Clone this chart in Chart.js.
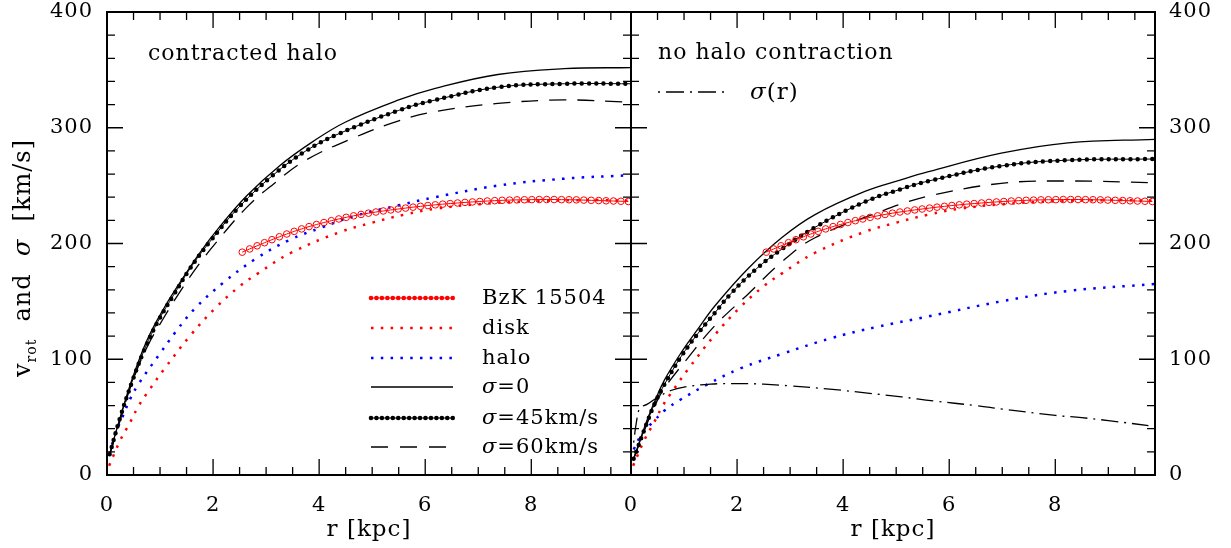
<!DOCTYPE html>
<html>
<head>
<meta charset="utf-8">
<script src="https://cdn.jsdelivr.net/npm/chart.js@4.4.0/dist/chart.umd.min.js"></script>
<style>
html, body { margin: 0; padding: 0; background: #fff; }
#wrap { position: relative; width: 1231px; height: 548px; }
#wrap canvas { position: absolute; left: 0; top: 0; }
</style>
</head>
<body>
<div id="wrap">
  <canvas id="left" width="1231" height="548"></canvas>
  <canvas id="right" width="1231" height="548"></canvas>
</div>
<script>
// ---- data (r in kpc, v in km/s) ----
// BzK 15504 rotation curve (same in both panels)
const rBzk = [2.55,2.69,2.83,2.97,3.11,3.25,3.39,3.53,3.67,3.81,3.95,4.09,4.23,4.37,4.51,4.65,4.79,4.93,5.07,5.21,5.35,5.49,5.63,5.77,5.91,6.05,6.19,6.33,6.47,6.61,6.75,6.89,7.03,7.17,7.31,7.45,7.59,7.73,7.87,8.01,8.15,8.29,8.43,8.57,8.71,8.85,8.99,9.13,9.27,9.41,9.55,9.69,9.83];
const vBzk = [192.5,195.3,198,200.7,203.3,205.8,208.2,210.5,212.6,214.6,216.4,218.1,219.7,221.2,222.6,223.9,225.1,226.2,227.2,228.1,229,229.8,230.6,231.4,232.1,232.8,233.4,234,234.5,235,235.5,235.9,236.3,236.7,237,237.3,237.5,237.7,237.8,237.9,238,238,238,237.9,237.8,237.7,237.5,237.3,237.1,236.9,236.7,236.5,236.3];

// disk (same in both panels)
const rDisk = [0.04,0.25,0.43,0.6,0.79,1.07,1.58,2.06,2.5,2.84,3.47,4.4,5.0,5.61,6.19,7.0,8.0,9.0,9.88];
const vDisk = [8,30,45,60,73,91,121,145,163,174,192,210,218,225,230,234,236.5,237.5,237];

// left panel: contracted halo
const rHaloC = [0.05,0.15,0.3,0.44,0.6,1.0,1.3,1.66,2.19,2.81,3.44,4.06,4.69,5.5,6.19,7.37,8.62,9.88];
const vHaloC = [18,35,51,66,79,105,124,144,166,187,203,214,224,233,240,250,256,259];
const rSig0C = [0.05,0.2,0.46,0.75,1.06,1.4,1.75,2.1,2.63,3.25,3.88,4.5,5.5,6.19,7.37,8.62,9.88];
const vSig0C = [18,42,81,116,143,168,192,213,241,267,288,305,324,334,346,351,352];
const rSig45C = [0.05,0.25,0.5,0.75,1.0,1.25,1.56,1.93,2.5,3.13,3.75,4.38,5.5,6.19,7.37,8.62,9.88];
const vSig45C = [18,50,84,113,136,155,178,201,232,259,280,295,315,324,335,338,338];
const rSig60C = [0.05,0.2,0.46,0.75,1.06,1.4,1.75,2.06,2.63,3.13,3.75,4.69,5.5,6.19,7.37,8.62,9.88];
const vSig60C = [17,40,78,110,135,160,183,201,231,251,272,292,306,314,321,324,322];

// right panel: no halo contraction
const rHaloN = [0.05,0.2,0.42,0.64,0.93,1.43,2.06,2.87,3.76,4.64,5.61,6.98,8.24,9.88];
const vHaloN = [22,35,46,56,65,78,92,105,118,128,137,150,159,165];
const rSig0N = [0.05,0.3,0.45,0.63,0.95,1.26,1.58,2.2,2.84,3.47,4.41,5.09,5.61,6.98,8.24,9.88];
const vSig0N = [14,47,64,82,106,126,146,178,205,225,245,255,262,278,287,290];
const rSig45N = [0.05,0.3,0.45,0.64,0.94,1.24,1.58,1.89,2.36,2.84,3.47,4.41,5.09,5.61,6.98,8.24,9.88];
const vSig45N = [14,45,62,79,102,121,140,157,178,195,214,236,247,254,267,272,273];
const rSig60N = [0.05,0.3,0.45,0.63,1.07,1.58,2.2,2.84,3.47,4.73,5.09,5.61,6.98,8.24,9.88];
const vSig60N = [14,44,60,75,101,129,156,184,205,228,234,241,252,254,252.5];
const rSigma = [0.05,0.1,0.17,0.3,0.5,0.75,1.0,1.5,2.0,2.5,3.0,3.8,4.5,5.1,5.7,6.5,7.0,8.0,8.5,9.0,9.88];
const vSigma = [28,45,58,61,67,73,76,78.5,79,78.5,77,74,70.5,67.5,64,60,57,51.5,49.5,47,42];

const xTicks = [0, 2, 4, 6, 8];
const yTicks = [0, 100, 200, 300, 400];

const FONT = '"DejaVu Serif", serif';
const RMAX = 9.88;

function pts(r, v) {
  return r.map((x, i) => ({ x: x, y: v[i] }));
}

function curve(r, v, color, width, dash, cap) {
  return {
    data: pts(r, v),
    borderColor: color,
    borderWidth: width,
    borderDash: dash || [],
    borderCapStyle: cap || 'butt',
    pointRadius: 0,
    fill: false,
    tension: 0.4
  };
}

function bzkSet() {
  return {
    data: pts(rBzk, vBzk),
    borderColor: '#ff0000',
    borderWidth: 1,
    pointRadius: 3.3,
    pointStyle: 'circle',
    pointBorderColor: '#ff0000',
    pointBackgroundColor: 'rgba(0,0,0,0)',
    pointBorderWidth: 1,
    fill: false,
    tension: 0.4
  };
}

const DOTS = [2.5, 7.3];

// wider glyph spacing, closer to the plotting font of the original
const spacing = {
  id: 'spacing',
  beforeDraw(chart) { chart.ctx.letterSpacing = '1px'; }
};

// frame + inward ticks
const frame = {
  id: 'frame',
  afterDatasetsDraw(chart) {
    const ctx = chart.ctx, a = chart.chartArea;
    const x = chart.scales.x, y = chart.scales.y;
    ctx.save();
    ctx.strokeStyle = '#000';
    ctx.lineWidth = 1.3;
    ctx.beginPath();
    for (let i = 0; i * 0.5 <= x.max; i++) {
      const px = x.getPixelForValue(i * 0.5);
      const len = i % 4 === 0 ? 16 : 8;
      ctx.moveTo(px, a.bottom); ctx.lineTo(px, a.bottom - len);
      ctx.moveTo(px, a.top); ctx.lineTo(px, a.top + len);
    }
    for (let v = 0; v <= 400; v += 20) {
      const py = y.getPixelForValue(v);
      const len = v % 100 === 0 ? 16 : 8;
      ctx.moveTo(a.left, py); ctx.lineTo(a.left + len, py);
      ctx.moveTo(a.right, py); ctx.lineTo(a.right - len, py);
    }
    ctx.stroke();
    ctx.lineWidth = 2;
    ctx.strokeRect(a.left, a.top, a.right - a.left, a.bottom - a.top);
    ctx.restore();
  }
};

function rich(ctx, parts, x, y, size) {
  for (const p of parts) {
    ctx.font = (p.i ? 'italic ' : '') + (p.s || size) + 'px ' + FONT;
    ctx.fillText(p.t, x, y + (p.dy || 0));
    x += ctx.measureText(p.t).width;
  }
  return x;
}

function richWidth(ctx, parts, size) {
  let w = 0;
  for (const p of parts) {
    ctx.font = (p.i ? 'italic ' : '') + (p.s || size) + 'px ' + FONT;
    w += ctx.measureText(p.t).width;
  }
  return w;
}

function sample(ctx, kind, x0, x1, y) {
  ctx.save();
  ctx.beginPath();
  ctx.moveTo(x0, y);
  ctx.lineTo(x1, y);
  if (kind === 'bzk' || kind === 'dots') {
    const c = kind === 'bzk' ? '#ff0000' : '#000';
    ctx.strokeStyle = c; ctx.lineWidth = 1; ctx.stroke();
    ctx.fillStyle = c;
    for (let px = x0; px <= x1 + 0.1; px += 5.45) {
      ctx.beginPath(); ctx.arc(px, y, 2.3, 0, Math.PI * 2); ctx.fill();
    }
  } else if (kind === 'disk' || kind === 'halo') {
    ctx.strokeStyle = kind === 'disk' ? '#ff0000' : '#0000ff';
    ctx.lineWidth = 2.5; ctx.setLineDash(DOTS); ctx.stroke();
  } else if (kind === 'solid') {
    ctx.strokeStyle = '#000'; ctx.lineWidth = 1.3; ctx.stroke();
  } else if (kind === 'dash') {
    ctx.strokeStyle = '#000'; ctx.lineWidth = 1.3; ctx.setLineDash([17, 12]); ctx.stroke();
  } else if (kind === 'dashdot') {
    ctx.strokeStyle = '#000'; ctx.lineWidth = 1.3; ctx.setLineDash([2, 6, 18, 6]); ctx.stroke();
  }
  ctx.restore();
}

const leftText = {
  id: 'leftText',
  afterDraw(chart) {
    const ctx = chart.ctx;
    ctx.save();
    ctx.fillStyle = '#000';
    ctx.textBaseline = 'alphabetic';
    ctx.font = '22px ' + FONT;
    ctx.fillText('contracted halo', 148, 60);

    const rows = [
      ['bzk', [{ t: 'BzK 15504' }], 298],
      ['disk', [{ t: 'disk' }], 328],
      ['halo', [{ t: 'halo' }], 358],
      ['solid', [{ t: 'σ', i: true }, { t: '=0' }], 387],
      ['dots', [{ t: 'σ', i: true }, { t: '=45km/s' }], 418],
      ['dash', [{ t: 'σ', i: true }, { t: '=60km/s' }], 447]
    ];
    for (const row of rows) {
      sample(ctx, row[0], 371, 453, row[2]);
      ctx.fillStyle = '#000';
      ctx.textBaseline = 'middle';
      rich(ctx, row[1], 482, row[2] + 1, 21);
    }

    // y axis title with subscript
    const parts = [
      { t: 'v' }, { t: 'rot', s: 14, dy: 6 }, { t: '  and  ' },
      { t: 'σ', i: true }, { t: '  [km/s]' }
    ];
    ctx.translate(22, 258);
    ctx.rotate(-Math.PI / 2);
    ctx.textBaseline = 'alphabetic';
    const w = richWidth(ctx, parts, 24);
    rich(ctx, parts, -w / 2, 8, 24);
    ctx.restore();
  }
};

const rightText = {
  id: 'rightText',
  afterDraw(chart) {
    const ctx = chart.ctx;
    ctx.save();
    ctx.fillStyle = '#000';
    ctx.textBaseline = 'alphabetic';
    ctx.font = '22px ' + FONT;
    ctx.fillText('no halo contraction', 658, 59);
    sample(ctx, 'dashdot', 658, 727, 92);
    ctx.fillStyle = '#000';
    ctx.textBaseline = 'middle';
    rich(ctx, [{ t: 'σ', i: true }, { t: '(r)' }], 750, 93, 23);
    ctx.restore();
  }
};

function scalesFor(side) {
  return {
    x: {
      type: 'linear', min: 0, max: RMAX,
      grid: { display: false, drawTicks: false },
      border: { display: false },
      afterBuildTicks(s) { s.ticks = xTicks.map(v => ({ value: v })); },
      ticks: { color: '#000', padding: 18, maxRotation: 0, font: { family: FONT, size: 21 } },
      title: { display: true, text: 'r [kpc]', color: '#000', padding: { top: 0, bottom: 4 }, font: { family: FONT, size: 23 } },
      afterFit(s) { s.height = 73; }
    },
    y: {
      type: 'linear', min: 0, max: 400, position: side,
      grid: { display: false, drawTicks: false },
      border: { display: false },
      afterBuildTicks(s) { s.ticks = yTicks.map(v => ({ value: v })); },
      ticks: { color: '#000', padding: side === 'left' ? 14 : 14, font: { family: FONT, size: 21 } },
      afterFit(s) { s.width = side === 'left' ? 107 : 76; s.paddingTop = 0; s.paddingBottom = 0; }
    }
  };
}

function baseOptions(side, pad) {
  return {
    responsive: false,
    animation: false,
    devicePixelRatio: 1,
    layout: { padding: pad },
    plugins: { legend: { display: false }, tooltip: { enabled: false } },
    scales: scalesFor(side)
  };
}

new Chart(document.getElementById('left'), {
  type: 'line',
  data: {
    datasets: [
      bzkSet(),
      curve(rSig45C, vSig45C, '#000', 1),
      curve(rSig45C, vSig45C, '#000', 4.5, [0, 7.3], 'round'),
      curve(rSig0C, vSig0C, '#000', 1.3),
      curve(rSig60C, vSig60C, '#000', 1.3, [17, 11]),
      curve(rDisk, vDisk, '#ff0000', 2.5, DOTS),
      curve(rHaloC, vHaloC, '#0000ff', 2.5, DOTS)
    ]
  },
  options: baseOptions('left', { top: 12, right: 600, left: 0, bottom: 0 }),
  plugins: [spacing, frame, leftText]
});

new Chart(document.getElementById('right'), {
  type: 'line',
  data: {
    datasets: [
      bzkSet(),
      curve(rSig45N, vSig45N, '#000', 1),
      curve(rSig45N, vSig45N, '#000', 4.5, [0, 7.3], 'round'),
      curve(rSig0N, vSig0N, '#000', 1.3),
      curve(rSig60N, vSig60N, '#000', 1.3, [17, 11]),
      curve(rSigma, vSigma, '#000', 1.3, [2, 6, 17, 6]),
      curve(rDisk, vDisk, '#ff0000', 2.5, DOTS),
      curve(rHaloN, vHaloN, '#0000ff', 2.5, DOTS)
    ]
  },
  options: baseOptions('right', { top: 12, right: 0, left: 631, bottom: 0 }),
  plugins: [spacing, frame, rightText]
});
</script>
</body>
</html>
